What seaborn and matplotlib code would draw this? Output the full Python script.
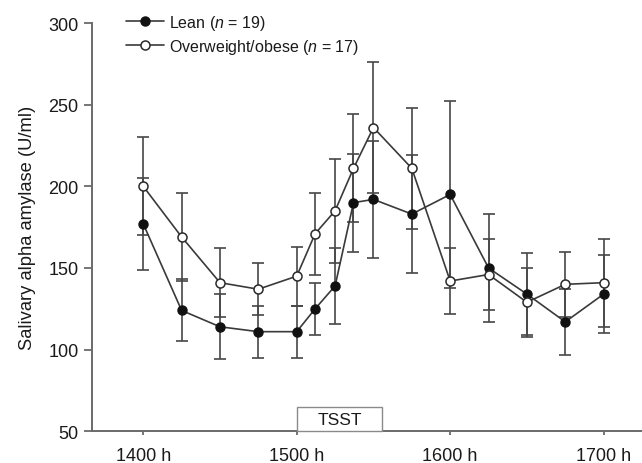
import matplotlib
matplotlib.use("Agg")
import matplotlib.pyplot as plt
import seaborn as sns
import pandas as pd
from matplotlib.patches import Rectangle

# sampling times, axis units (1400 h ... 1700 h)
times = [1400, 1425, 1450, 1475, 1500, 1512, 1525, 1537, 1550, 1575, 1600, 1625, 1650, 1675, 1700]
lean = [177, 124, 114, 111, 111, 125, 139, 190, 192, 183, 195, 150, 134, 117, 134]
lean_err = [28, 19, 20, 16, 16, 16, 23, 30, 36, 36, 57, 33, 25, 20, 24]
over = [200, 169, 141, 137, 145, 171, 185, 211, 236, 211, 142, 146, 129, 140, 141]
over_err = [30, 27, 21, 16, 18, 25, 32, 33, 40, 37, 20, 22, 21, 20, 27]
xticks = [1400, 1500, 1600, 1700]
xtick_labels = ["1400 h", "1500 h", "1600 h", "1700 h"]
yticks = [50, 100, 150, 200, 250, 300]

sns.set_style("ticks")
plt.rcParams["font.family"] = ["Liberation Sans", "DejaVu Sans"]
plt.rcParams["mathtext.fontset"] = "custom"
plt.rcParams["mathtext.it"] = "Liberation Sans:italic"
plt.rcParams["mathtext.rm"] = "Liberation Sans"

df = pd.DataFrame({
    "time": times * 2,
    "value": lean + over,
    "group": ["lean"] * len(times) + ["over"] * len(times),
})

fig = plt.figure(figsize=(6.42, 4.64), dpi=100)
ax = fig.add_axes([91.7 / 642, (464 - 432.3) / 464, (642 - 91.7) / 642, (432.3 - 24) / 464])

line_col = "#3a3a3a"
err_col = "#474747"

ax.errorbar(times, lean, yerr=lean_err, fmt="none", ecolor=err_col, elinewidth=1.2,
            capsize=4.3, capthick=1.2, zorder=2)
ax.errorbar(times, over, yerr=over_err, fmt="none", ecolor=err_col, elinewidth=1.2,
            capsize=4.3, capthick=1.2, zorder=2)

sns.lineplot(data=df[df.group == "lean"], x="time", y="value", ax=ax, color=line_col,
             lw=1.2, marker="o", markersize=6.5, markerfacecolor="#111111",
             markeredgecolor="#111111", markeredgewidth=1.0, zorder=3,
             label=r"Lean ($\it{n}$ = 19)")
sns.lineplot(data=df[df.group == "over"], x="time", y="value", ax=ax, color=line_col,
             lw=1.2, marker="o", markersize=6.5, markerfacecolor="white",
             markeredgecolor="#2a2a2a", markeredgewidth=1.1, zorder=4,
             label=r"Overweight/obese ($\it{n}$ = 17)")

# TSST period box
ax.add_patch(Rectangle((1500, 50), 55.6, 15.1, facecolor="white", edgecolor="#8a8a8a",
                       lw=1.0, zorder=5, clip_on=False))
ax.text(1527.8, 57.3, "TSST", ha="center", va="center", fontsize=12.5, color="#1a1a1a", zorder=6)

ax.set_xlim(1366.4, 1725)
ax.set_ylim(50, 300)
ax.set_xticks(xticks)
ax.set_xticklabels(xtick_labels)
ax.set_yticks(yticks)
ax.tick_params(axis="both", labelsize=13, colors="#6a6a6a", labelcolor="#1a1a1a")
ax.tick_params(axis="y", length=5.5, width=1.3, pad=4)
ax.tick_params(axis="x", length=3, width=1.3, pad=8)
ax.set_xlabel("")
ax.set_ylabel("Salivary alpha amylase (U/ml)", fontsize=13.2, color="#1a1a1a", labelpad=9)

sns.despine(ax=ax)
for s in ["left", "bottom"]:
    ax.spines[s].set_color("#6a6a6a")
    ax.spines[s].set_linewidth(1.4)

leg = ax.legend(loc="upper left", bbox_to_anchor=(0.05, 1.04), frameon=False,
                fontsize=11.5, handlelength=2.4, handletextpad=0.3, labelspacing=0.3,
                borderaxespad=0)
for t in leg.get_texts():
    t.set_color("#1a1a1a")

fig.savefig("out.png", dpi=100)
